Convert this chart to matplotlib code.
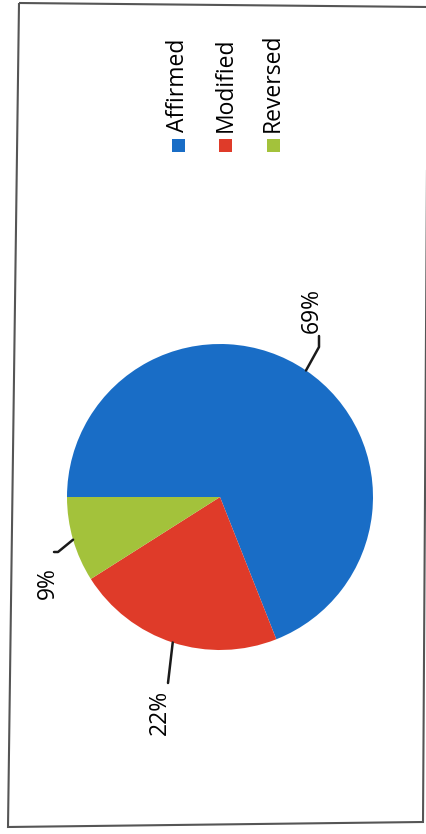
import numpy as np
import matplotlib.pyplot as plt
from matplotlib.patches import Rectangle, Polygon

# Chart data (the scanned chart is turned 90 degrees)
categories = ['Affirmed', 'Modified', 'Reversed']
shares = [69, 22, 9]
pct_labels = ['69%', '22%', '9%']
colors = ['#196DC6', '#DF3B29', '#A3C23B']

plt.rcParams['font.family'] = ['Open Sans', 'DejaVu Sans']

fig = plt.figure(figsize=(4.26, 8.34), dpi=100)
ax = fig.add_axes([0, 0, 1, 1])

cx, cy, r = 220, 337, 153
wedges, _ = ax.pie(shares, colors=colors, startangle=180, counterclock=False,
                   center=(cx, cy), radius=r, frame=True,
                   wedgeprops=dict(linewidth=0))
ax.set_xlim(0, 426)
ax.set_ylim(0, 834)
ax.axis('off')

# leader lines: offsets from the centre, (elbow, end, label)
leaders = [
    [(99, 150), (99, 161), (92, 187)],
    [(-52, -186), (-52, -186), (-60, -215)],
    [(-162, -55), (-166, -55), (-172, -86)],
]
for w, lab, pts in zip(wedges, pct_labels, leaders):
    mid = np.deg2rad((w.theta1 + w.theta2) / 2)
    x0, y0 = cx + r * np.cos(mid), cy + r * np.sin(mid)
    xs = [x0] + [cx + p[0] for p in pts[:2]]
    ys = [y0] + [cy + p[1] for p in pts[:2]]
    ax.plot(xs, ys, color='#1a1a1a', lw=1.8, solid_capstyle='round')
    ax.text(cx + pts[2][0], cy + pts[2][1], lab, rotation=90,
            ha='center', va='center', fontsize=16.5, color='black')

# legend
for i, (name, c) in enumerate(zip(categories, colors)):
    lx = 178 + i * 47.5
    ax.add_patch(Rectangle((lx - 6.5, 682), 13, 13, facecolor=c, edgecolor='none'))
    ax.text(lx, 702, name, rotation=90, ha='center', va='bottom',
            fontsize=16.5, color='black')

# scanned frame
ax.add_patch(Polygon([(19, 831), (428, 827), (423, 12), (8, 7)], closed=True,
                     fill=False, edgecolor='#555555', lw=1.5))

fig.savefig('out.png', dpi=100)
